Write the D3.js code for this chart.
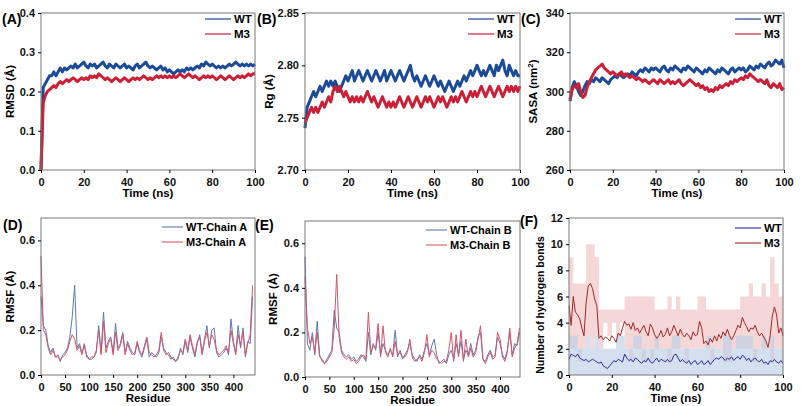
<!DOCTYPE html>
<html><head><meta charset="utf-8">
<script src="https://cdn.jsdelivr.net/npm/d3@7"></script>
<style>
body{margin:0;background:#fff;font-family:"Liberation Sans",Arial,sans-serif;}
text{font-weight:bold;}
</style></head>
<body><svg width="801" height="406"></svg>
<script>
// time axis 0..100 ns, one point per ns
const rmsdWT = [0.00,0.21,0.22,0.23,0.24,0.24,0.25,0.24,0.25,0.26,
0.25,0.26,0.255,0.26,0.265,0.26,0.27,0.26,0.265,0.27,
0.275,0.265,0.26,0.27,0.265,0.27,0.26,0.265,0.27,0.275,
0.265,0.26,0.27,0.265,0.26,0.27,0.265,0.26,0.265,0.27,
0.26,0.265,0.26,0.255,0.265,0.27,0.26,0.265,0.27,0.275,
0.265,0.26,0.265,0.26,0.255,0.26,0.265,0.255,0.26,0.25,
0.255,0.25,0.245,0.25,0.255,0.25,0.255,0.25,0.26,0.255,
0.26,0.255,0.26,0.265,0.26,0.27,0.265,0.275,0.27,0.265,
0.27,0.265,0.26,0.265,0.26,0.265,0.26,0.265,0.27,0.265,
0.27,0.275,0.27,0.265,0.27,0.265,0.27,0.265,0.27,0.265,0.27];
const rmsdM3 = [0.00,0.17,0.19,0.20,0.205,0.21,0.215,0.21,0.22,0.225,
0.22,0.225,0.23,0.225,0.23,0.235,0.23,0.225,0.23,0.235,
0.23,0.235,0.23,0.24,0.235,0.24,0.235,0.245,0.24,0.235,
0.23,0.235,0.23,0.225,0.23,0.235,0.23,0.225,0.23,0.235,
0.23,0.225,0.23,0.235,0.23,0.235,0.23,0.235,0.24,0.235,
0.23,0.235,0.23,0.235,0.24,0.235,0.24,0.235,0.24,0.235,
0.24,0.235,0.24,0.235,0.24,0.245,0.24,0.235,0.24,0.245,
0.24,0.235,0.24,0.235,0.23,0.235,0.24,0.235,0.24,0.235,
0.24,0.235,0.23,0.235,0.24,0.235,0.23,0.235,0.24,0.235,
0.23,0.235,0.24,0.235,0.24,0.235,0.24,0.245,0.24,0.245,0.245];
const rgWT = [2.74,2.76,2.765,2.77,2.775,2.77,2.775,2.78,2.775,2.78,
2.785,2.78,2.785,2.78,2.785,2.78,2.775,2.78,2.785,2.79,
2.785,2.79,2.795,2.785,2.79,2.795,2.79,2.785,2.79,2.795,
2.79,2.785,2.79,2.795,2.79,2.785,2.79,2.795,2.785,2.79,
2.795,2.79,2.785,2.79,2.795,2.79,2.785,2.79,2.795,2.80,
2.79,2.785,2.79,2.785,2.78,2.785,2.79,2.785,2.78,2.785,
2.79,2.785,2.78,2.785,2.78,2.775,2.78,2.785,2.78,2.775,
2.78,2.785,2.78,2.785,2.79,2.785,2.79,2.795,2.79,2.795,
2.80,2.795,2.79,2.795,2.79,2.795,2.80,2.795,2.79,2.80,
2.795,2.80,2.805,2.795,2.79,2.80,2.795,2.79,2.795,2.79,2.79];
const rgM3 = [2.745,2.75,2.755,2.76,2.755,2.76,2.755,2.76,2.765,2.76,
2.765,2.77,2.765,2.775,2.78,2.775,2.78,2.775,2.77,2.775,
2.77,2.765,2.77,2.765,2.77,2.765,2.77,2.765,2.77,2.775,
2.77,2.765,2.77,2.765,2.76,2.765,2.77,2.765,2.76,2.765,
2.76,2.765,2.76,2.765,2.77,2.765,2.76,2.765,2.77,2.765,
2.76,2.765,2.77,2.765,2.76,2.765,2.77,2.765,2.77,2.765,
2.76,2.765,2.77,2.765,2.77,2.765,2.76,2.765,2.77,2.765,
2.77,2.765,2.77,2.775,2.77,2.765,2.77,2.775,2.77,2.775,
2.77,2.775,2.78,2.775,2.77,2.775,2.78,2.775,2.77,2.775,
2.78,2.775,2.77,2.775,2.78,2.775,2.78,2.775,2.78,2.775,2.78];
const sasaWT = [295,302,305,303,300,298,300,303,305,304,
306,305,307,306,305,307,306,305,304,306,
307,308,307,309,308,307,308,309,308,310,
309,308,310,311,310,312,311,310,312,311,
312,311,310,312,313,311,310,312,311,313,
312,311,310,312,311,313,312,311,310,312,
311,310,309,311,310,312,311,310,309,311,
310,312,311,310,309,311,312,310,311,312,
311,312,310,311,313,312,311,313,312,314,
313,312,314,315,313,314,316,315,314,316,312];
const sasaM3 = [296,301,303,302,304,300,297,298,302,305,
307,309,311,312,313,314,312,311,310,309,
310,309,308,309,310,308,309,308,307,308,
307,306,307,306,305,306,305,304,305,306,
305,304,306,305,304,305,306,304,305,304,
305,306,304,303,304,305,306,305,304,303,
304,302,303,301,302,300,301,300,302,301,
303,302,303,304,303,305,304,306,305,306,
307,306,308,307,309,308,307,306,305,306,
305,304,306,303,302,304,303,302,304,301,302];
// residues 0..440, one point every 5 residues
const rmsfA_WT = [0.35,0.22,0.20,0.13,0.10,0.12,0.08,0.09,0.06,0.09,0.10,0.12,0.17,0.26,0.40,0.12,0.14,0.10,0.13,0.09,
0.07,0.07,0.08,0.10,0.22,0.10,0.28,0.12,0.15,0.17,0.10,0.23,0.12,0.14,0.19,0.10,0.15,0.12,0.10,0.09,
0.14,0.10,0.08,0.12,0.16,0.08,0.10,0.09,0.08,0.10,0.17,0.12,0.10,0.09,0.07,0.08,0.06,0.07,0.12,0.09,
0.15,0.10,0.17,0.12,0.08,0.14,0.18,0.10,0.16,0.22,0.12,0.20,0.21,0.10,0.08,0.09,0.10,0.12,0.09,0.25,
0.15,0.10,0.22,0.12,0.21,0.08,0.15,0.14,0.35];
const rmsfA_M3 = [0.53,0.20,0.18,0.12,0.09,0.11,0.08,0.08,0.07,0.08,0.09,0.11,0.15,0.18,0.16,0.11,0.13,0.09,0.14,0.08,
0.07,0.08,0.08,0.11,0.20,0.09,0.24,0.10,0.14,0.16,0.09,0.19,0.11,0.13,0.18,0.09,0.14,0.11,0.09,0.10,
0.15,0.11,0.09,0.13,0.17,0.10,0.09,0.08,0.09,0.11,0.19,0.11,0.09,0.10,0.08,0.07,0.06,0.08,0.11,0.10,
0.16,0.11,0.18,0.13,0.09,0.15,0.17,0.09,0.15,0.19,0.13,0.18,0.16,0.11,0.09,0.10,0.11,0.13,0.10,0.20,
0.14,0.09,0.18,0.13,0.19,0.09,0.14,0.18,0.40];
const rmsfB_WT = [0.54,0.15,0.12,0.20,0.10,0.25,0.10,0.07,0.06,0.08,0.10,0.12,0.30,0.22,0.20,0.12,0.10,0.09,0.10,0.08,
0.09,0.07,0.08,0.10,0.09,0.07,0.20,0.10,0.15,0.12,0.20,0.10,0.15,0.12,0.10,0.12,0.10,0.21,0.09,0.12,
0.08,0.10,0.12,0.15,0.10,0.08,0.07,0.10,0.08,0.12,0.15,0.10,0.14,0.17,0.10,0.06,0.07,0.08,0.06,0.10,
0.12,0.08,0.15,0.10,0.16,0.08,0.12,0.10,0.15,0.10,0.12,0.18,0.20,0.08,0.07,0.10,0.12,0.09,0.10,0.18,
0.15,0.10,0.08,0.12,0.20,0.10,0.15,0.14,0.20];
const rmsfB_M3 = [0.45,0.22,0.15,0.18,0.11,0.20,0.09,0.08,0.06,0.07,0.09,0.11,0.22,0.46,0.18,0.11,0.09,0.08,0.09,0.07,
0.08,0.06,0.07,0.09,0.10,0.08,0.29,0.11,0.14,0.13,0.24,0.09,0.23,0.11,0.09,0.13,0.09,0.16,0.10,0.11,
0.09,0.09,0.11,0.17,0.09,0.07,0.08,0.09,0.07,0.11,0.19,0.09,0.12,0.11,0.08,0.07,0.06,0.07,0.07,0.12,
0.20,0.07,0.19,0.09,0.21,0.07,0.17,0.09,0.13,0.09,0.11,0.17,0.23,0.08,0.06,0.09,0.11,0.08,0.09,0.20,
0.17,0.09,0.07,0.11,0.22,0.09,0.13,0.15,0.22];
// hydrogen bonds, running mean per ns and raw range every 2 ns
const hbWT = [1.2,1.6,1.5,1.4,1.6,1.3,1.2,1.1,1.2,1.0,
1.1,1.2,1.1,1.0,0.9,1.0,0.7,0.6,0.5,0.7,
0.9,1.1,1.0,1.2,1.1,1.0,1.6,1.3,1.1,1.2,
1.0,1.3,1.2,1.0,0.9,1.1,1.0,1.3,1.0,0.9,
1.1,1.3,1.0,1.2,1.1,1.0,1.2,1.0,1.1,1.5,
1.6,1.3,1.0,1.2,1.0,0.9,1.1,0.8,1.0,1.1,
0.8,0.9,1.1,0.8,0.9,1.1,0.8,1.0,1.2,1.3,
1.2,1.4,1.3,1.1,1.3,1.2,1.4,1.1,1.3,1.4,
1.2,1.5,1.4,1.1,1.3,1.0,1.2,1.3,1.1,1.0,
1.2,0.9,1.0,0.8,1.1,1.0,1.2,1.0,0.9,1.1,0.9];
const hbM3 = [5.3,3.8,6.0,4.8,4.6,4.3,3.6,3.0,5.5,6.8,
7.0,6.6,5.8,5.3,2.8,3.0,2.7,2.9,2.8,2.6,
3.0,2.8,2.5,3.2,3.0,3.6,4.1,3.8,3.9,3.5,
4.0,3.4,3.6,3.2,3.5,3.8,3.3,3.0,3.9,3.6,
3.1,2.8,3.0,3.4,2.9,3.1,3.6,3.0,3.3,3.8,
3.4,3.0,3.5,3.1,2.9,3.2,3.0,2.7,3.3,3.0,
3.1,4.1,3.6,2.4,2.6,2.3,2.8,2.5,3.0,2.6,
3.1,2.8,3.3,3.0,3.5,3.0,2.7,3.0,3.4,3.8,
3.6,4.4,4.0,3.7,3.3,3.6,3.5,3.8,3.3,3.0,
3.2,2.9,2.6,2.1,3.0,4.5,5.2,4.6,3.2,3.6,3.0];
const hbWTHi = [3,3,2,2,3,2,3,2,2,2,2,3,3,2,2,3,3,2,2,2,3,2,2,2,3,3,2,2,2,2,2,2,3,2,2,2,3,3,2,3,3,3,3,2,2,3,2,3,2,2,2];
const hbM3Lo = [2,2,1,2,3,2,3,2,4,3,4,3,4,2,1,2,2,1,2,1,2,2,2,1,2,2,2,1,2,2,2,2,2,1,2,2,1,1,2,2,2,2,2,1,2,2,2,1,2,2,2];
const hbM3Hi = [9,7,7,7,10,10,9,5,5,5,5,5,5,6,6,6,6,6,6,6,5,5,5,6,5,6,5,5,5,5,6,6,5,5,5,5,5,5,5,5,6,6,7,6,6,7,6,9,7,6,6];

const svg = d3.select('svg');
const blue = '#1b4a98', red = '#cc1f36';

function panel(o) {
  const g = svg.append('g');
  const x = d3.scaleLinear().domain(o.xd).range([o.x0, o.x1]);
  const y = d3.scaleLinear().domain(o.yd).range([o.y1, o.y0]);
  if (o.draw) o.draw(g, x, y);
  o.series.forEach(s => {
    g.append('path').datum(s.v)
      .attr('fill', 'none').attr('stroke', s.c).attr('stroke-width', s.w)
      .attr('stroke-linejoin', 'round')
      .attr('d', d3.line().x((d, i) => x(i * s.step)).y(d => y(d)));
  });
  g.append('rect').attr('x', o.x0).attr('y', o.y0)
    .attr('width', o.x1 - o.x0).attr('height', o.y1 - o.y0)
    .attr('fill', 'none').attr('stroke', '#777').attr('stroke-width', 1);
  const ax = g.append('g').attr('transform', `translate(0,${o.y1})`)
    .call(d3.axisBottom(x).tickValues(o.xt).tickSize(3).tickFormat(d3.format('d')));
  const ay = g.append('g').attr('transform', `translate(${o.x0},0)`)
    .call(d3.axisLeft(y).tickValues(o.yt).tickSize(3).tickFormat(o.yf));
  [ax, ay].forEach(a => {
    a.select('.domain').remove();
    a.selectAll('text').attr('font-size', 11).attr('font-weight', 'bold').attr('fill', '#111')
      .attr('font-family', 'Liberation Sans, Arial');
  });
  ax.selectAll('text').attr('dy', '0.9em');
  g.append('text').attr('x', (o.x0 + o.x1) / 2).attr('y', o.y1 + 27)
    .attr('text-anchor', 'middle').attr('font-size', 11.5).text(o.xl);
  g.append('text').attr('transform', `translate(${o.yx},${o.yc || (o.y0 + o.y1) / 2}) rotate(-90)`)
    .attr('text-anchor', 'middle').attr('font-size', o.yfs || 11.5).html(o.yl);
  g.append('text').attr('x', o.lx).attr('y', o.ly).attr('font-size', 14).text(o.label);
  const ll = o.legLen || 26;
  o.legend.forEach((l, i) => {
    const yy = o.legY + i * 15;
    g.append('line').attr('x1', o.legX).attr('x2', o.legX + ll).attr('y1', yy).attr('y2', yy)
      .attr('stroke', l.c).attr('stroke-width', 1.2);
    g.append('text').attr('x', o.legX + ll + 3).attr('y', yy + 4)
      .attr('font-size', o.legFs || 11.5).text(l.t);
  });
}

const tTicks = [0, 20, 40, 60, 80, 100];
const rTicks = [0, 50, 100, 150, 200, 250, 300, 350, 400];
const topRow = {y0: 13, y1: 170}, botRow = {y0: 218, y1: 375};

panel({...topRow, x0: 41, x1: 255, xd: [0, 100], yd: [0, 0.4], xt: tTicks, yt: [0, 0.1, 0.2, 0.3, 0.4],
  yf: d3.format('.1f'), xl: 'Time (ns)', yl: 'RMSD (Å)', yx: 14, label: '(A)', lx: 2, ly: 24,
  legX: 205, legY: 19, legend: [{t: 'WT', c: blue}, {t: 'M3', c: red}],
  series: [{v: rmsdWT, c: blue, w: 3, step: 1}, {v: rmsdM3, c: red, w: 3, step: 1}]});

panel({...topRow, x0: 305, x1: 520, xd: [0, 100], yd: [2.70, 2.85], xt: tTicks, yt: [2.70, 2.75, 2.80, 2.85],
  yf: d3.format('.2f'), xl: 'Time (ns)', yl: 'Rg (Å)', yx: 273, label: '(B)', lx: 257, ly: 24,
  legX: 468, legY: 19, legend: [{t: 'WT', c: blue}, {t: 'M3', c: red}],
  series: [{v: rgWT, c: blue, w: 3, step: 1}, {v: rgM3, c: red, w: 3, step: 1}]});

panel({...topRow, x0: 570, x1: 784, xd: [0, 100], yd: [260, 340], xt: tTicks, yt: [260, 280, 300, 320, 340],
  yf: d3.format('d'), xl: 'Time (ns)', yl: 'SASA (nm<tspan dy="-4" font-size="8">2</tspan><tspan dy="4">)</tspan>',
  yx: 537, label: '(C)', lx: 521, ly: 24,
  legX: 735, legY: 19, legend: [{t: 'WT', c: blue}, {t: 'M3', c: red}],
  series: [{v: sasaWT, c: blue, w: 3, step: 1}, {v: sasaM3, c: red, w: 3, step: 1}]});

panel({...botRow, x0: 41, x1: 255, xd: [0, 445], yd: [0, 0.7], xt: rTicks, yt: [0, 0.2, 0.4, 0.6],
  yf: d3.format('.1f'), xl: 'Residue', yl: 'RMSF (Å)', yx: 14, label: '(D)', lx: 3, ly: 230,
  legX: 162, legY: 227, legLen: 21, legFs: 11, legend: [{t: 'WT-Chain A', c: '#6f86b8'}, {t: 'M3-Chain A', c: '#d96a78'}],
  series: [{v: rmsfA_WT, c: '#5f78b0', w: 1, step: 5}, {v: rmsfA_M3, c: '#d4566a', w: 1, step: 5}]});

panel({...botRow, y0: 221, y1: 377, x0: 305, x1: 520, xd: [0, 441], yd: [0, 0.7], xt: rTicks, yt: [0, 0.2, 0.4, 0.6],
  yf: d3.format('.1f'), xl: 'Residue', yl: 'RMSF (Å)', yx: 277, label: '(E)', lx: 255, ly: 230,
  legX: 426, legY: 230, legLen: 21, legFs: 11, legend: [{t: 'WT-Chain B', c: '#6f86b8'}, {t: 'M3-Chain B', c: '#d96a78'}],
  series: [{v: rmsfB_WT, c: '#5f78b0', w: 1, step: 5}, {v: rmsfB_M3, c: '#d4566a', w: 1, step: 5}]});

panel({...botRow, x0: 569, x1: 783, xd: [0, 100], yd: [0, 12], xt: tTicks, yt: [0, 2, 4, 6, 8, 10, 12],
  yf: d3.format('d'), xl: 'Time (ns)', yl: 'Number of hydrogen bonds', yx: 544, yc: 305, yfs: 10.5,
  label: '(F)', lx: 520, ly: 226,
  legX: 735, legY: 228, legend: [{t: 'WT', c: '#3a3aa0'}, {t: 'M3', c: '#a83434'}],
  draw: (g, x, y) => {
    const band = (lo, hi) => d3.area().curve(d3.curveStepAfter)
      .x((d, i) => x(Math.min(i * 2, 100))).y0((d, i) => y(lo(i))).y1((d, i) => y(hi(i)));
    g.append('path').datum(hbM3Hi).attr('fill', '#f0bcbc').attr('opacity', 0.6)
      .attr('d', band(i => hbM3Lo[i], i => hbM3Hi[i]));
    g.append('path').datum(hbWTHi).attr('fill', '#bcd0e6').attr('opacity', 0.65)
      .attr('d', band(i => 0, i => hbWTHi[i]));
  },
  series: [{v: hbWT, c: '#2c2c9c', w: 1, step: 1}, {v: hbM3, c: '#a02828', w: 1, step: 1}]});
</script></body></html>
